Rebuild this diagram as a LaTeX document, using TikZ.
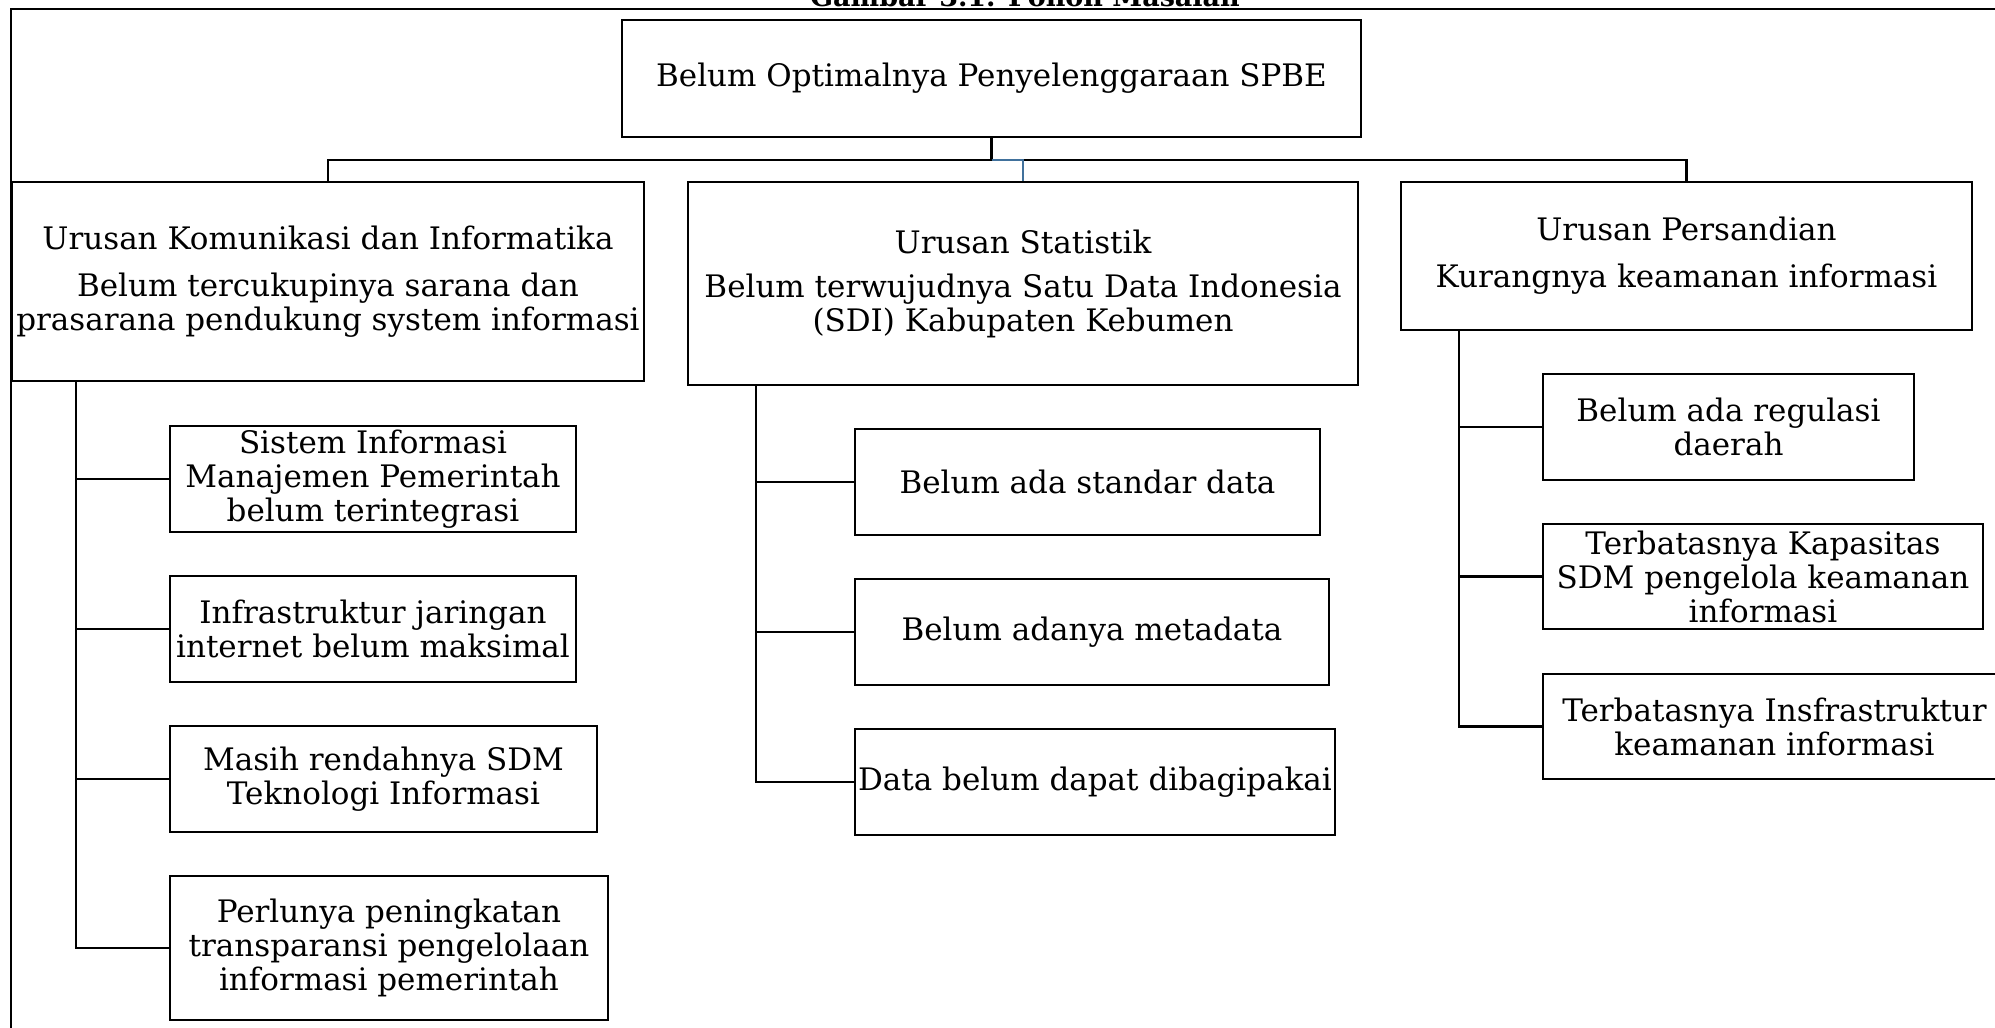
\documentclass[tikz,border=0pt]{standalone}
\usepackage{fontspec}
\setmainfont{DejaVu Serif}
\definecolor{conblue}{RGB}{65,113,156}
\begin{document}
\begin{tikzpicture}[x=1pt,y=-1pt,
  box/.style={draw=black,line width=2.6pt,rectangle,inner sep=0pt,align=center,
    font=\fontsize{31}{34}\selectfont},
  conn/.style={draw=black,line width=2.4pt},
  frame/.style={draw=black,line width=2pt}]
\useasboundingbox (0,0) rectangle (1995,1028);
\fill[white] (0,0) rectangle (1995,1028);
% title (partly cut off at top)
\node[anchor=base,inner sep=0pt,font=\bfseries\fontsize{27}{27}\selectfont] (title) at (1025,6) {Gambar 3.1. Pohon Masalah};
% outer frame
\draw[frame] (11,2040) -- (11,9) -- (2040,9);
% top node
\node[box,minimum width=739pt,minimum height=117pt] (top) at (991.5,78.5) {Belum Optimalnya Penyelenggaraan SPBE};
% level 2
\node[box,minimum width=632pt,minimum height=199pt] (A) at (328,281.5)
  {Urusan Komunikasi dan Informatika\\[13pt]Belum tercukupinya sarana dan\\prasarana pendukung system informasi};
\node[box,minimum width=670pt,minimum height=203pt] (B) at (1023,283.5)
  {Urusan Statistik\\[10pt]Belum terwujudnya Satu Data Indonesia\\(SDI) Kabupaten Kebumen};
\node[box,minimum width=571pt,minimum height=148pt] (C) at (1686.5,256)
  {Urusan Persandian\\[13pt]Kurangnya keamanan informasi};
% level 3 - A
\node[box,minimum width=406pt,minimum height=106pt] (A1) at (373,479) {Sistem Informasi\\Manajemen Pemerintah\\belum terintegrasi};
\node[box,minimum width=406pt,minimum height=106pt] (A2) at (373,629) {Infrastruktur jaringan\\internet belum maksimal};
\node[box,minimum width=427pt,minimum height=106pt] (A3) at (383.5,779) {Masih rendahnya SDM\\Teknologi Informasi};
\node[box,minimum width=438pt,minimum height=144pt] (A4) at (389,948) {Perlunya peningkatan\\transparansi pengelolaan\\informasi pemerintah};
% level 3 - B
\node[box,minimum width=465pt,minimum height=106pt] (B1) at (1087.5,482) {Belum ada standar data};
\node[box,minimum width=474pt,minimum height=106pt] (B2) at (1092,632) {Belum adanya metadata};
\node[box,minimum width=480pt,minimum height=106pt] (B3) at (1095,782) {Data belum dapat dibagipakai};
% level 3 - C
\node[box,minimum width=371pt,minimum height=106pt] (C1) at (1728.5,427) {Belum ada regulasi\\daerah};
\node[box,minimum width=440pt,minimum height=105pt] (C2) at (1763,576.5) {Terbatasnya Kapasitas\\SDM pengelola keamanan\\informasi};
\node[box,minimum width=463pt,minimum height=105pt] (C3) at (1774.5,726.5) {Terbatasnya Insfrastruktur\\keamanan informasi};
% bus coordinates
\coordinate (bus) at (0,160);
\coordinate (spA) at (76,0);
\coordinate (spB) at (756,0);
\coordinate (spC) at (1459,0);
% top connectors
\draw[conn] (top.south) -- (top.south |- bus) -| (A.north);
\draw[conn] (B.north |- bus) -| (C.north);
\draw[draw=conblue,line width=2.4pt] (top.south |- bus) -| (B.north);
% spines
\draw[conn] (spA |- A.south) |- (A4.west);
\draw[conn] (spA |- A1.west) -- (A1.west);
\draw[conn] (spA |- A2.west) -- (A2.west);
\draw[conn] (spA |- A3.west) -- (A3.west);
\draw[conn] (spB |- B.south) |- (B3.west);
\draw[conn] (spB |- B1.west) -- (B1.west);
\draw[conn] (spB |- B2.west) -- (B2.west);
\draw[conn] (spC |- C.south) |- (C3.west);
\draw[conn] (spC |- C1.west) -- (C1.west);
\draw[conn] (spC |- C2.west) -- (C2.west);
\end{tikzpicture}
\end{document}
